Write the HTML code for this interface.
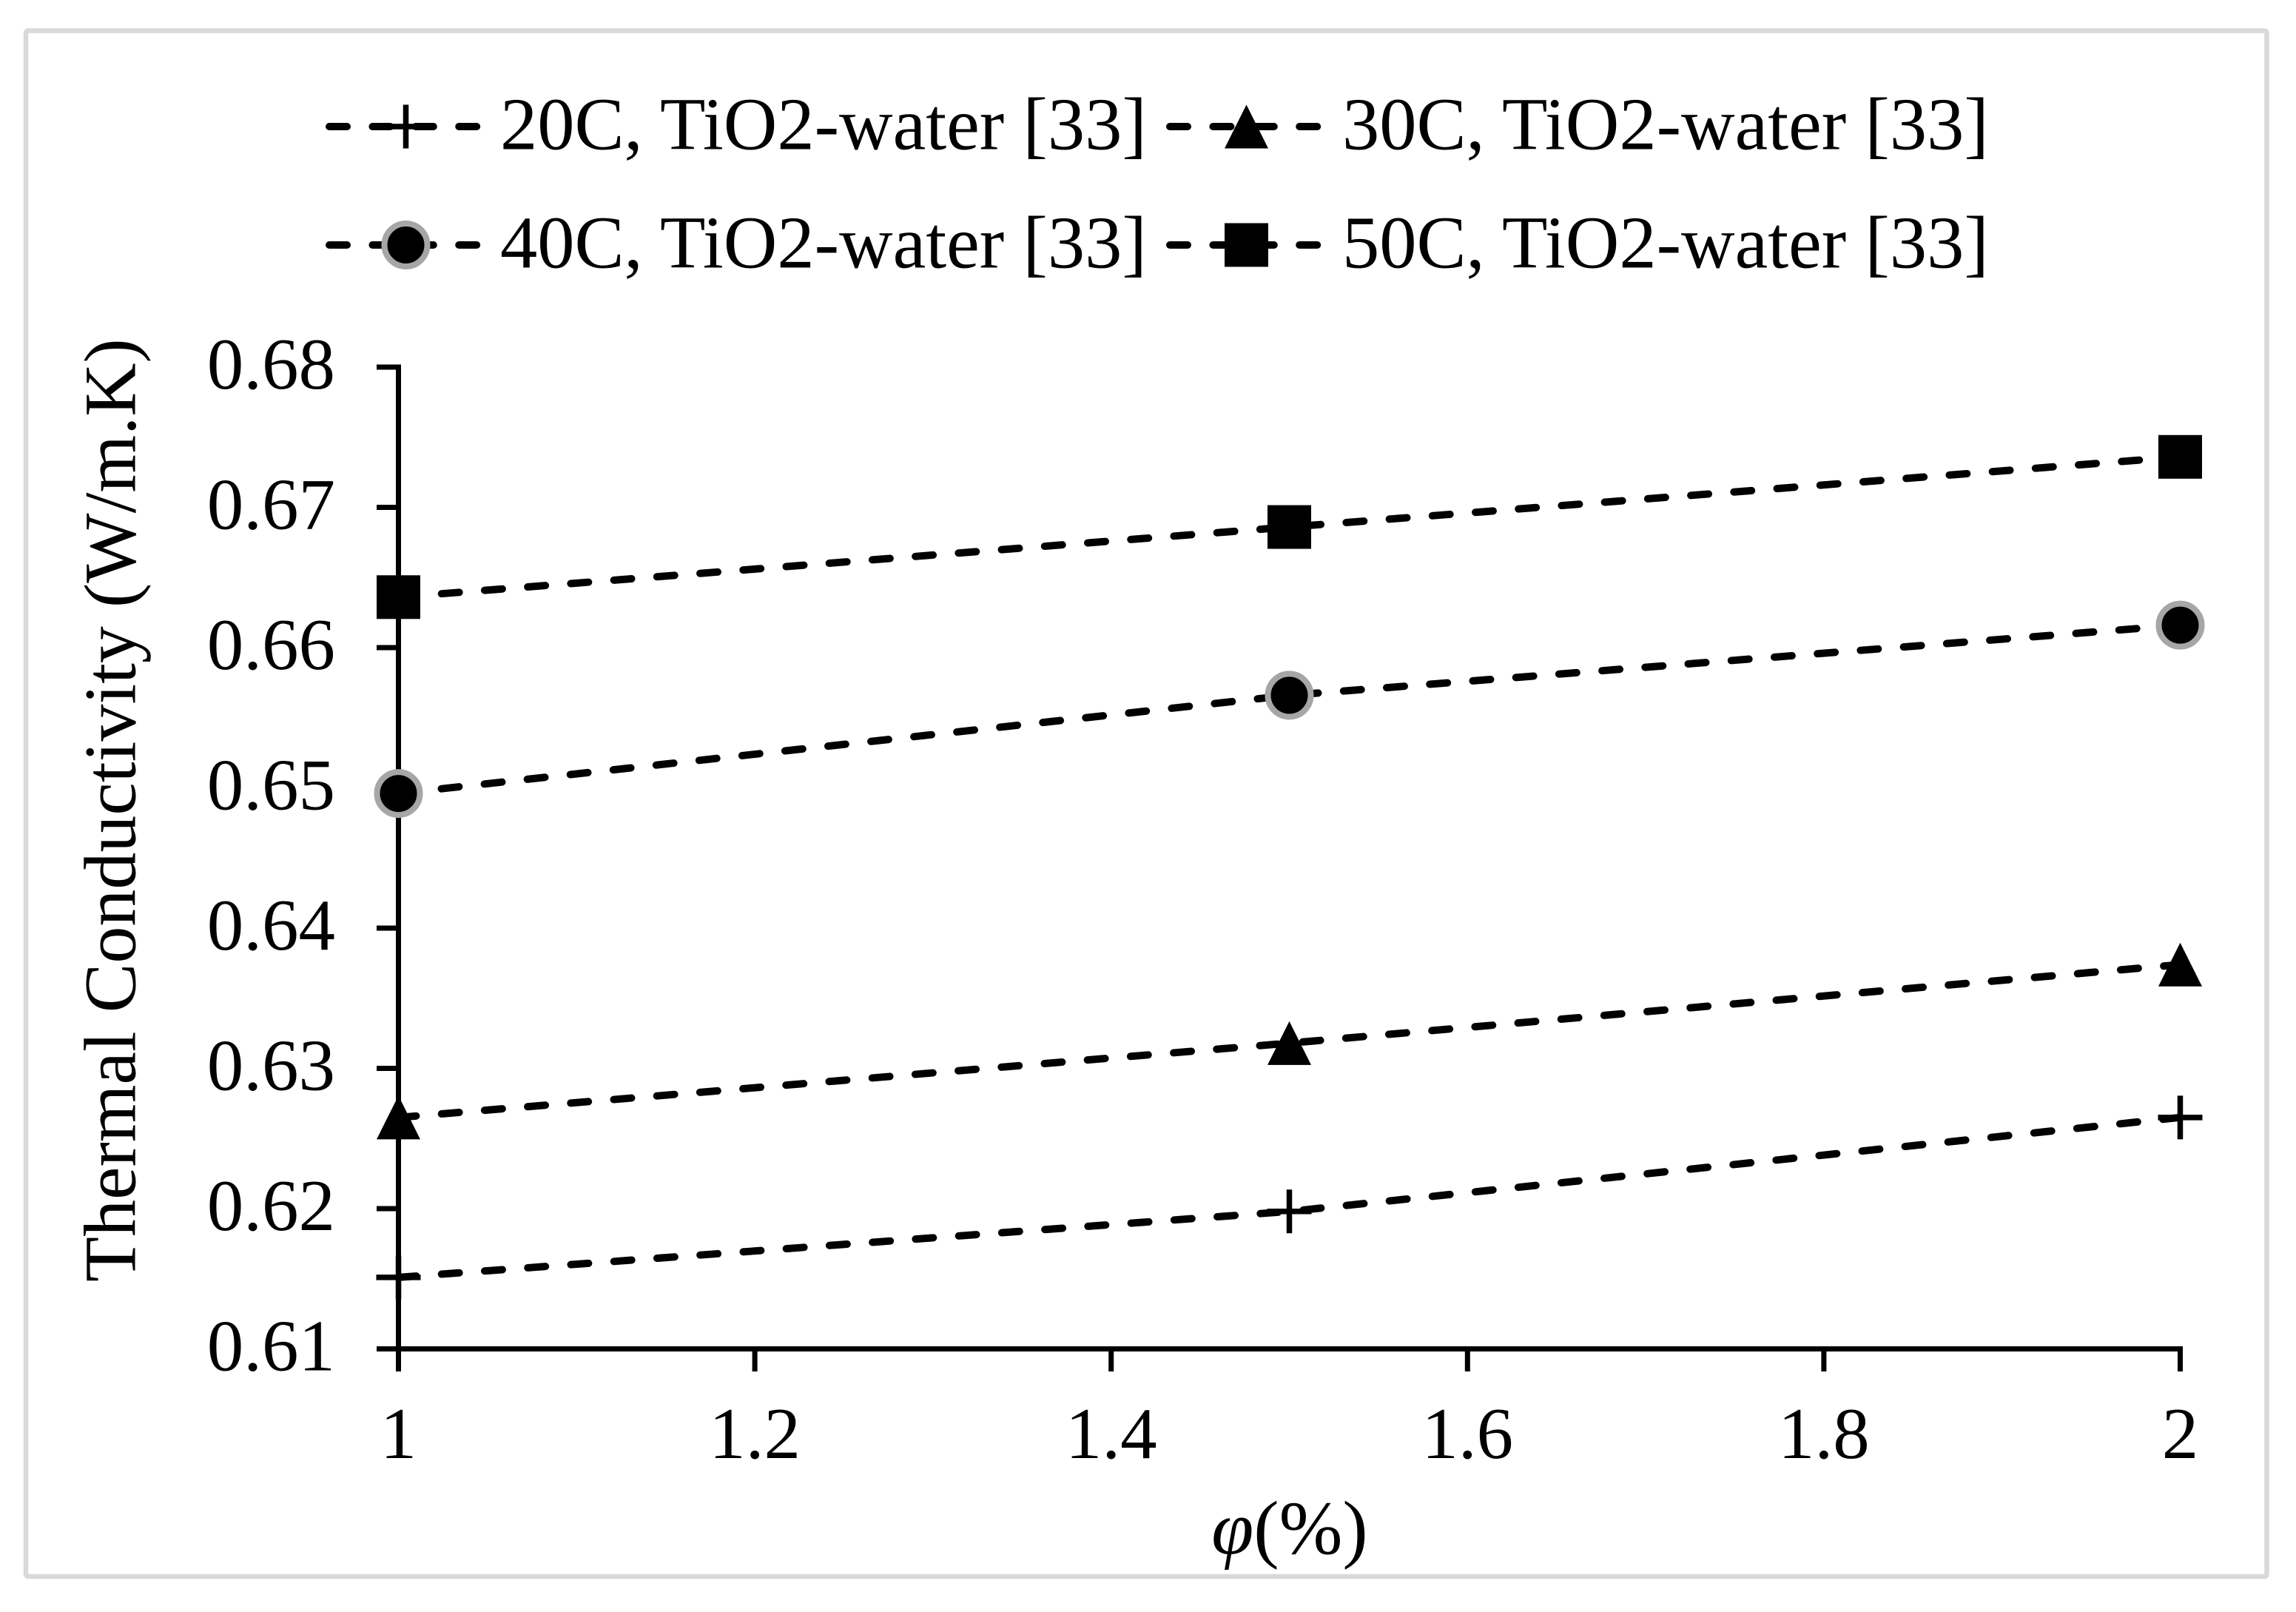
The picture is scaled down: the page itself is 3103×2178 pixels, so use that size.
<!DOCTYPE html>
<html lang="en">
<head>
<meta charset="utf-8">
<title>Thermal Conductivity vs Volume Fraction</title>
<style>
html,body{margin:0;padding:0;background:#fff;}
svg{display:block;}
text{font-family:"Liberation Serif","Times New Roman",serif;fill:#000;font-size:99px;}
</style>
</head>
<body>
<svg id="chart" xmlns="http://www.w3.org/2000/svg" width="3103" height="2178" viewBox="0 0 3103 2178">
  <rect x="0" y="0" width="3103" height="2178" fill="#ffffff"/>
  <rect x="35" y="41.5" width="3028.5" height="2088.5" rx="3" fill="none" stroke="#d9d9d9" stroke-width="6.5"/>
  <g id="axes"></g>
  <g id="series"></g>
  <text transform="translate(182.5 1732) rotate(-90)" text-anchor="start" style="font-size:100px">Thermal Conductivity (W/m.K)</text>
  <text x="1743" y="2099" text-anchor="middle" style="font-size:103px"><tspan font-style="italic">φ</tspan>(%)</text>
  <g id="legend" style="font-size:100.5px">
    <text x="676" y="201.5" style="font-size:100.5px">20C, TiO2-water [33]</text>
    <text x="1814" y="201.5" style="font-size:100.5px">30C, TiO2-water [33]</text>
    <text x="676" y="361.5" style="font-size:100.5px">40C, TiO2-water [33]</text>
    <text x="1814" y="361.5" style="font-size:100.5px">50C, TiO2-water [33]</text>
  </g>
</svg>
<script>
const xValues = [1, 1.5, 2];
const series20C = [0.6151, 0.6198, 0.6265];
const series30C = [0.6265, 0.6318, 0.6374];
const series40C = [0.6496, 0.6566, 0.6616];
const series50C = [0.6636, 0.6686, 0.6736];
const xTicks = [1, 1.2, 1.4, 1.6, 1.8, 2];
const xTickLabels = ['1', '1.2', '1.4', '1.6', '1.8', '2'];
const yTicks = [0.61, 0.62, 0.63, 0.64, 0.65, 0.66, 0.67, 0.68];
const yTickLabels = ['0.61', '0.62', '0.63', '0.64', '0.65', '0.66', '0.67', '0.68'];

const NS = 'http://www.w3.org/2000/svg';
const xScale = v => 538.5 + (v - 1) / (2 - 1) * (2946.5 - 538.5);
const yScale = v => 1822.5 - (v - 0.61) / (0.68 - 0.61) * (1822.5 - 496);

function make(parent, tag, attrs) {
  const el = document.createElementNS(NS, tag);
  for (const k in attrs) el.setAttribute(k, attrs[k]);
  parent.appendChild(el);
  return el;
}

function drawMarker(parent, kind, cx, cy) {
  let el;
  if (kind === 'plus') {
    el = make(parent, 'path', {
      d: 'M' + (cx - 30) + ' ' + cy + 'H' + (cx + 30) + 'M' + cx + ' ' + (cy - 29.5) + 'V' + (cy + 29.5),
      stroke: '#000', 'stroke-width': 7.5, fill: 'none'
    });
    
    
  } else if (kind === 'triangle') {
    el = make(parent, 'path', {
      d: 'M' + cx + ' ' + (cy - 29.5) + 'L' + (cx + 29.5) + ' ' + (cy + 29.5) + 'L' + (cx - 29.5) + ' ' + (cy + 29.5) + 'Z',
      fill: '#000'
    });
    
    
  } else if (kind === 'circle') {
    el = make(parent, 'circle', {
      cx: cx, cy: cy, r: 29, fill: '#000', stroke: '#a6a6a6', 'stroke-width': 8
    });
    
    
  } else {
    el = make(parent, 'rect', {
      x: cx - 29.5, y: cy - 29.5, width: 59, height: 59, fill: '#000'
    });
    
    
  }
}

const dashStyle = {
  fill: 'none', stroke: '#000', 'stroke-width': 10,
  'stroke-dasharray': '24 34.4', 'stroke-linecap': 'round'
};

/* Axes */
const axes = document.getElementById('axes');
const yAxisLine = make(axes, 'line', {
  x1: xScale(1), x2: xScale(1), y1: yScale(0.68) - 3.5, y2: 1853, stroke: '#000', 'stroke-width': 7
});


const xAxisLine = make(axes, 'line', {
  x1: 509, x2: xScale(2) + 3.5, y1: yScale(0.61), y2: yScale(0.61), stroke: '#000', 'stroke-width': 7
});



yTicks.forEach((t, i) => {
  const tick = make(axes, 'line', {
    x1: 509, x2: xScale(1), y1: yScale(t), y2: yScale(t), stroke: '#000', 'stroke-width': 7
  });
  
  
  const label = make(axes, 'text', { x: 453, y: yScale(t) + 29, 'text-anchor': 'end' });
  
  
  label.textContent = yTickLabels[i];
});

xTicks.forEach((t, i) => {
  const tick = make(axes, 'line', {
    x1: xScale(t), x2: xScale(t), y1: yScale(0.61), y2: 1853, stroke: '#000', 'stroke-width': 7
  });
  
  
  const label = make(axes, 'text', { x: xScale(t), y: 1970, 'text-anchor': 'middle' });
  
  
  label.textContent = xTickLabels[i];
});

/* Series */
const seriesRoot = document.getElementById('series');
function drawSeries(name, values, kind) {
  const g = make(seriesRoot, 'g', {});
  
  
  const pts = values.map((v, i) => xScale(xValues[i]) + ',' + yScale(v)).join(' ');
  const line = make(g, 'polyline', Object.assign({ points: pts }, dashStyle));
  
  
  values.forEach((v, i) => drawMarker(g, kind, xScale(xValues[i]), yScale(v)));
}
drawSeries('series-20c', series20C, 'plus');
drawSeries('series-30c', series30C, 'triangle');
drawSeries('series-40c', series40C, 'circle');
drawSeries('series-50c', series50C, 'square');

/* Legend keys */
const legend = document.getElementById('legend');
function drawKey(name, startX, cy, kind) {
  const g = make(legend, 'g', {});
  
  
  const line = make(g, 'line', Object.assign({ x1: startX, x2: startX + 200, y1: cy, y2: cy }, dashStyle));
  
  
  drawMarker(g, kind, startX + 103.5, cy);
}
drawKey('legend-key-20c', 445, 171, 'plus');
drawKey('legend-key-30c', 1581, 171, 'triangle');
drawKey('legend-key-40c', 445, 331, 'circle');
drawKey('legend-key-50c', 1581, 331, 'square');
</script>
</body>
</html>
